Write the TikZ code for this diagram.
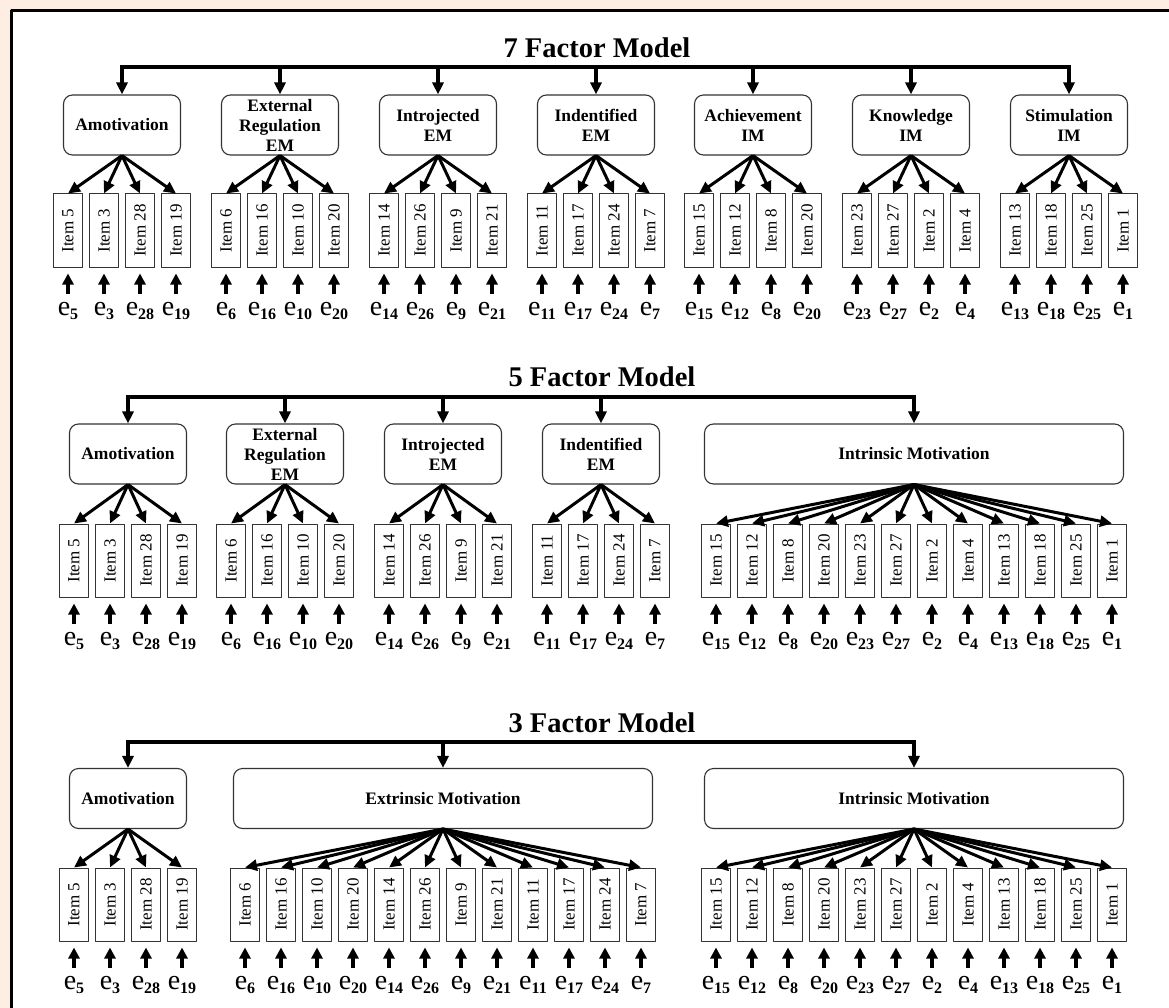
\documentclass[tikz,border=0pt]{standalone}
\usepackage{fontspec}
\setmainfont{Liberation Serif}
\usepackage{tikz}
\usetikzlibrary{arrows.meta}

\definecolor{peach}{RGB}{253,237,227}
\newcommand{\errlab}[1]{e\raisebox{-4pt}{\fontsize{16}{16}\selectfont\bfseries #1}}

\begin{document}
\begin{tikzpicture}[
	x=1pt, y=-1pt,
	line join=round,
	title/.style={inner sep=0pt, font=\fontsize{28.5}{30}\selectfont\bfseries},
	factor/.style={draw=black!80, line width=1.1pt, rounded corners=9pt,
		minimum height=60pt, align=center, inner sep=2pt,
		font=\fontsize{17.5}{20}\selectfont\bfseries},
	item/.style={draw=black!80, line width=1pt, minimum width=29pt,
		minimum height=73pt, inner sep=0pt, font=\fontsize{17}{17}\selectfont},
	err/.style={anchor=base, inner sep=0pt, text height=21pt,
		font=\fontsize{28}{28}\selectfont},
	bus/.style={line width=3.2pt, line cap=rect},
	busarr/.style={line width=3.2pt, -{Triangle[length=12pt,width=11pt]}},
	fan/.style={line width=3pt, -{Triangle[length=12pt,width=11pt]}},
	errarr/.style={line width=3.2pt, shorten >=6pt, -{Triangle[length=11pt,width=11pt]}}
	]
	
	\useasboundingbox (0,0) rectangle (1169,1008);
	\fill[peach] (0,0) rectangle (1169,1008);
	\clip (0,0) rectangle (1169,1008);
	\draw[line width=3pt, fill=white] (11,11) rectangle (1200,1040);
	
	% 7 factor model
	\node[title] (t7) at (597,48) {7 Factor Model};
	\coordinate (bus7) at (0,67);
	\foreach \x/\w/\n/\lab/\items/\f in {
		122/117/4/{Amotivation}/{5,3,28,19}/a,
		280/117/4/{External\\Regulation\\EM}/{6,16,10,20}/b,
		438/117/4/{Introjected\\EM}/{14,26,9,21}/c,
		596/117/4/{Indentified\\EM}/{11,17,24,7}/d,
		753/117/4/{Achievement\\IM}/{15,12,8,20}/e,
		911/117/4/{Knowledge\\IM}/{23,27,2,4}/f,
		1069/117/4/{Stimulation\\IM}/{13,18,25,1}/g}{
		\node[factor, minimum width=\w pt] (f7\f) at (\x,125) {\lab};
		\draw[busarr] (f7\f.north |- bus7) -- (f7\f.north);
		\foreach \it [count=\k] in \items {
			\node[item] (i7\f\k) at ({\x+36*(\k-(\n+1)/2)},230.5) {\rotatebox{90}{Item \it}};
			\node[err] (e7\f\k) at ({\x+36*(\k-(\n+1)/2)},315) {\errlab{\it}};
			\draw[fan] (f7\f.south) -- (i7\f\k.north);
			\draw[errarr] (e7\f\k.north) -- (i7\f\k.south);
		}
	}
	\draw[bus] (f7a.north |- bus7) -- (f7g.north |- bus7);
	
	% 5 factor model
	\node[title] (t5) at (602,377) {5 Factor Model};
	\coordinate (bus5) at (0,397);
	\foreach \x/\w/\n/\lab/\items/\f in {
		128/117/4/{Amotivation}/{5,3,28,19}/a,
		285/117/4/{External\\Regulation\\EM}/{6,16,10,20}/b,
		443/117/4/{Introjected\\EM}/{14,26,9,21}/c,
		601/117/4/{Indentified\\EM}/{11,17,24,7}/d,
		914/419/12/{Intrinsic Motivation}/{15,12,8,20,23,27,2,4,13,18,25,1}/e}{
		\node[factor, minimum width=\w pt] (f5\f) at (\x,454) {\lab};
		\draw[busarr] (f5\f.north |- bus5) -- (f5\f.north);
		\foreach \it [count=\k] in \items {
			\node[item] (i5\f\k) at ({\x+36*(\k-(\n+1)/2)},560.5) {\rotatebox{90}{Item \it}};
			\node[err] (e5\f\k) at ({\x+36*(\k-(\n+1)/2)},645) {\errlab{\it}};
			\draw[fan] (f5\f.south) -- (i5\f\k.north);
			\draw[errarr] (e5\f\k.north) -- (i5\f\k.south);
		}
	}
	\draw[bus] (f5a.north |- bus5) -- (f5e.north |- bus5);
	
	% 3 factor model
	\node[title] (t3) at (602,723) {3 Factor Model};
	\coordinate (bus3) at (0,742);
	\foreach \x/\w/\n/\lab/\items/\f in {
		128/117/4/{Amotivation}/{5,3,28,19}/a,
		443/419/12/{Extrinsic Motivation}/{6,16,10,20,14,26,9,21,11,17,24,7}/b,
		914/419/12/{Intrinsic Motivation}/{15,12,8,20,23,27,2,4,13,18,25,1}/c}{
		\node[factor, minimum width=\w pt] (f3\f) at (\x,798.5) {\lab};
		\draw[busarr] (f3\f.north |- bus3) -- (f3\f.north);
		\foreach \it [count=\k] in \items {
			\node[item] (i3\f\k) at ({\x+36*(\k-(\n+1)/2)},904.5) {\rotatebox{90}{Item \it}};
			\node[err] (e3\f\k) at ({\x+36*(\k-(\n+1)/2)},989) {\errlab{\it}};
			\draw[fan] (f3\f.south) -- (i3\f\k.north);
			\draw[errarr] (e3\f\k.north) -- (i3\f\k.south);
		}
	}
	\draw[bus] (f3a.north |- bus3) -- (f3c.north |- bus3);
	
\end{tikzpicture}
\end{document}
